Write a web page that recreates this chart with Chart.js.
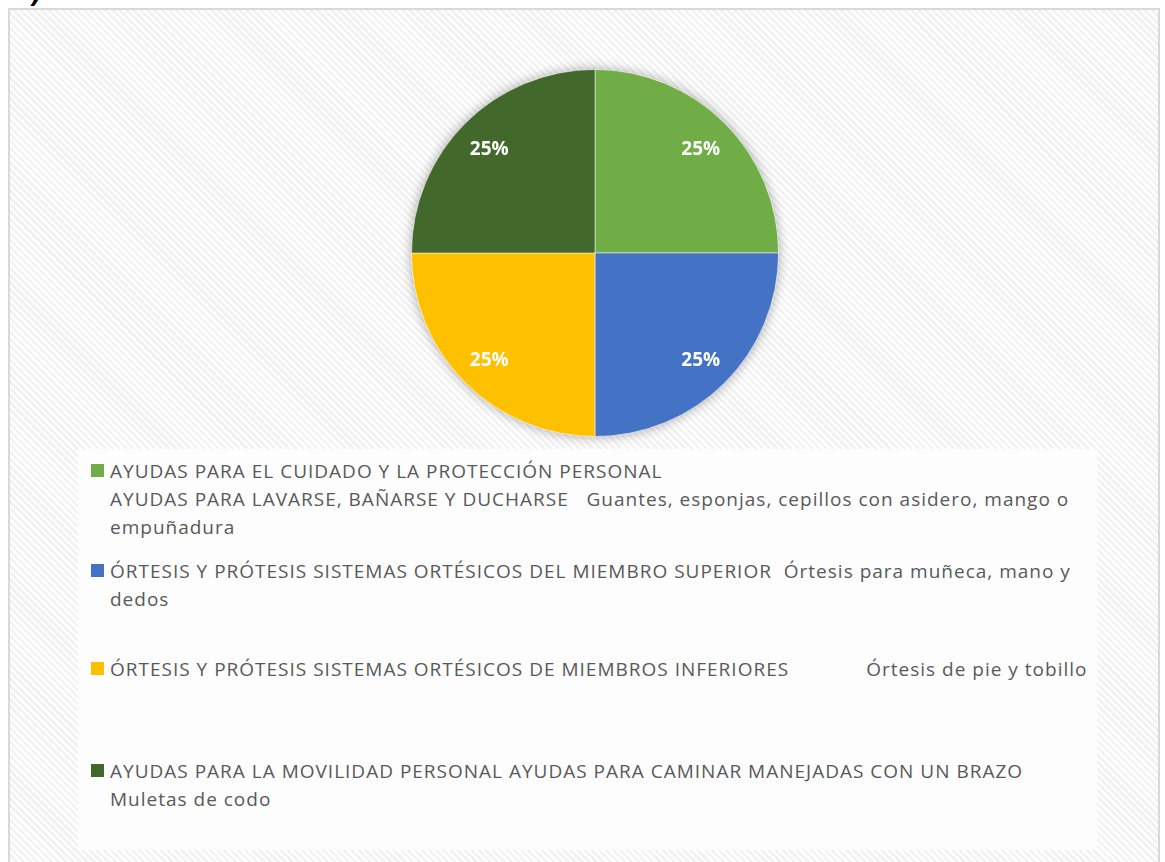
<!DOCTYPE html>
<html>
<head>
<meta charset="utf-8">
<script src="https://cdn.jsdelivr.net/npm/chart.js@4"></script>
<style>
  body { margin: 0; background: #fff; width: 1165px; height: 862px; overflow: hidden; position: relative; font-family: "Open Sans", sans-serif; }
  .frame {
    position: absolute; left: 8px; top: 8px; width: 1148px; height: 900px;
    border: 2px solid #d9d9d9;
    background: repeating-linear-gradient(45deg, #ffffff 0px, #ffffff 2.5px, #f2f2f2 2.5px, #f2f2f2 5px);
  }
  .coin { position: absolute; left: 31px; top: -22px; font: italic bold 26px "DejaVu Sans", sans-serif; color: #000; }
  #pieBox { position: absolute; left: 395px; top: 53px; width: 400px; height: 400px; }
  #legende {
    position: absolute; left: 78px; top: 449px; width: 1019px; height: 401px;
    background: #fdfdfd; padding-top: 8px; box-sizing: border-box;
  }
  .item { position: relative; padding-left: 32px; font-size: 19px; letter-spacing: 1px; line-height: 28px; color: #595959; white-space: pre; }
  .item .carre { position: absolute; left: 13px; top: 7px; width: 13px; height: 13px; }
  .item:nth-child(2) { margin-top: 16px; }
  .item:nth-child(3) { margin-top: 42px; }
  .item:nth-child(4) { margin-top: 74px; }
</style>
</head>
<body>
<div class="coin">)</div>
<div class="frame"></div>
<div id="pieBox"><canvas id="camembert"></canvas></div>
<div id="legende"></div>

<script>
// Données du graphique
const categories = [
  ["AYUDAS PARA EL CUIDADO Y LA PROTECCIÓN PERSONAL",
   "AYUDAS PARA LAVARSE, BAÑARSE Y DUCHARSE   Guantes, esponjas, cepillos con asidero, mango o",
   "empuñadura"],
  ["ÓRTESIS Y PRÓTESIS SISTEMAS ORTÉSICOS DEL MIEMBRO SUPERIOR  Órtesis para muñeca, mano y",
   "dedos"],
  ["ÓRTESIS Y PRÓTESIS SISTEMAS ORTÉSICOS DE MIEMBROS INFERIORES             Órtesis de pie y tobillo"],
  ["AYUDAS PARA LA MOVILIDAD PERSONAL AYUDAS PARA CAMINAR MANEJADAS CON UN BRAZO",
   "Muletas de codo"]
];
const valeurs = [25, 25, 25, 25];
const couleurs = ["#70ad47", "#4472c4", "#ffc000", "#43682b"];

// Ombre douce sous le camembert
const ombrePlugin = {
  id: "ombre",
  beforeDatasetsDraw(chart) {
    const arc = chart.getDatasetMeta(0).data[0];
    if (!arc) return;
    const ctx = chart.ctx;
    ctx.save();
    ctx.shadowColor = "rgba(0,0,0,0.35)";
    ctx.shadowBlur = 12;
    ctx.fillStyle = "#fff";
    ctx.beginPath();
    ctx.arc(arc.x, arc.y, arc.outerRadius, 0, Math.PI * 2);
    ctx.fill();
    ctx.restore();
  }
};

// Étiquettes de pourcentage
const etiquettesPlugin = {
  id: "etiquettes",
  afterDatasetsDraw(chart) {
    const ctx = chart.ctx;
    const total = valeurs.reduce((a, b) => a + b, 0);
    ctx.save();
    ctx.font = "bold 19px 'Open Sans', sans-serif";
    ctx.fillStyle = "#fff";
    ctx.textAlign = "center";
    ctx.textBaseline = "middle";
    chart.getDatasetMeta(0).data.forEach((arc, i) => {
      const p = arc.getProps(["x", "y", "startAngle", "endAngle", "outerRadius"], true);
      const mid = (p.startAngle + p.endAngle) / 2;
      const r = p.outerRadius * 0.815;
      const pct = Math.round(valeurs[i] / total * 100) + "%";
      ctx.fillText(pct, p.x + Math.cos(mid) * r, p.y + Math.sin(mid) * r + 2);
    });
    ctx.restore();
  }
};

const ctxPie = document.getElementById("camembert").getContext("2d");
const chart = new Chart(ctxPie, {
  type: "pie",
  data: {
    labels: categories,
    datasets: [{
      data: valeurs,
      backgroundColor: couleurs,
      borderColor: "rgba(255,255,255,0.5)",
      borderWidth: 1
    }]
  },
  options: {
    responsive: true,
    maintainAspectRatio: false,
    animation: false,
    layout: { padding: 16 },
    plugins: {
      legend: { display: false },
      tooltip: { enabled: false }
    }
  },
  plugins: [ombrePlugin, etiquettesPlugin]
});

// Légende HTML construite à partir des données
const legende = document.getElementById("legende");
chart.data.labels.forEach((lab, i) => {
  const item = document.createElement("div");
  item.className = "item";
  const carre = document.createElement("span");
  carre.className = "carre";
  carre.style.background = couleurs[i];
  item.appendChild(carre);
  item.appendChild(document.createTextNode(lab.join("\n")));
  legende.appendChild(item);
});
</script>
</body>
</html>
